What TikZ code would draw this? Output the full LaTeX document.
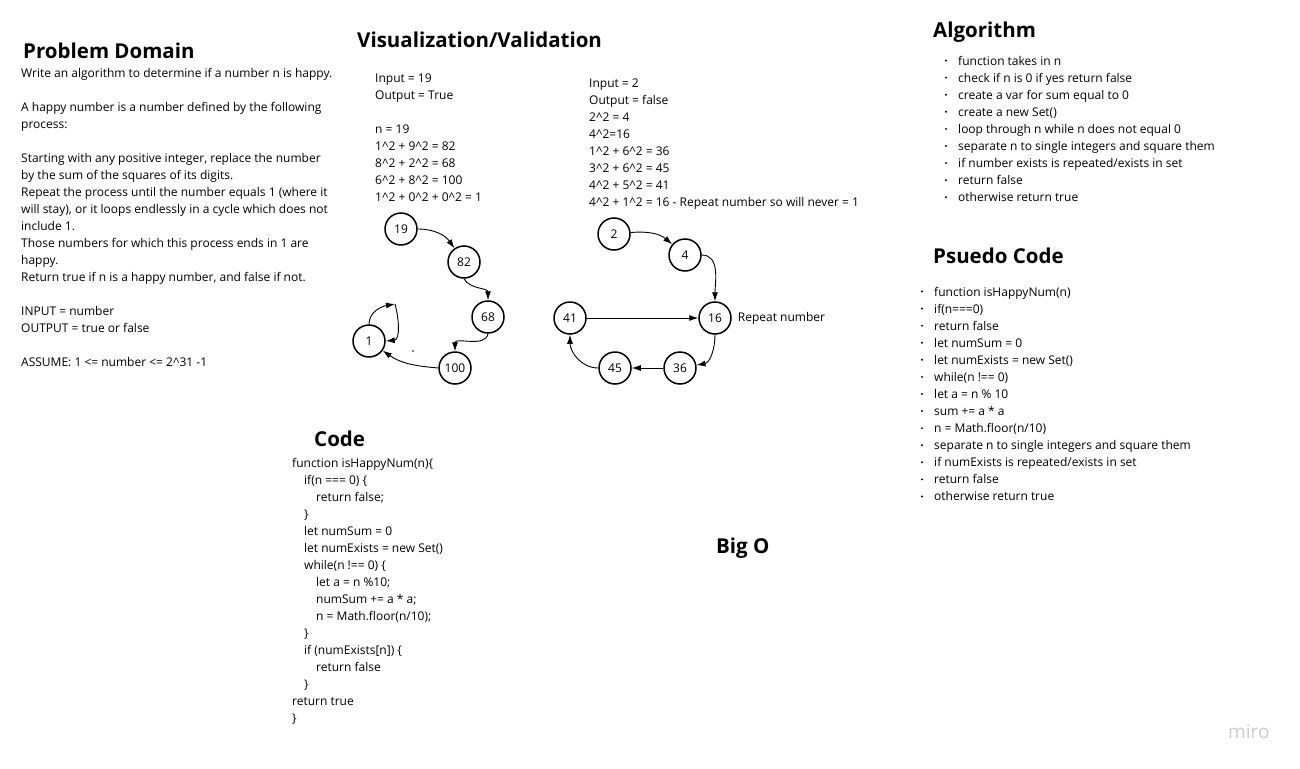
\documentclass[tikz,border=0pt]{standalone}
\usepackage{fontspec}
\setmainfont{Open Sans}
\usepackage{tikz}
\usetikzlibrary{arrows.meta}
\usetikzlibrary{positioning}
\newcommand{\pw}{\textasciicircum}
\tikzset{
  txt/.style={font=\fontsize{12}{17}\selectfont, inner sep=0pt, align=left, anchor=north west},
  item/.style={font=\fontsize{12}{17}\selectfont, inner sep=0pt, anchor=base west},
  head/.style={font=\fontsize{20.5}{24}\selectfont\bfseries, inner sep=0pt, anchor=base west},
  num/.style={draw, circle, line width=1.5pt, minimum size=32pt, inner sep=0pt, font=\fontsize{12}{14}\selectfont},
  arr/.style={-{Latex[length=9pt,width=6pt]}, line width=0.9pt},
}
\begin{document}
\begin{tikzpicture}[x=1pt,y=-1pt]
\useasboundingbox (0,0) rectangle (1300,768);

\node[head] (hprob) at (23,59) {Problem Domain};
\node[txt] (prob) at (21,68.5) {Write an algorithm to determine if a number n is happy.\\[17pt]
A happy number is a number defined by the following\\
process:\\[17pt]
Starting with any positive integer, replace the number\\
by the sum of the squares of its digits.\\
Repeat the process until the number equals 1 (where it\\
will stay), or it loops endlessly in a cycle which does not\\
include 1.\\
Those numbers for which this process ends in 1 are\\
happy.\\
Return true if n is a happy number, and false if not.\\[17pt]
INPUT = number\\
OUTPUT = true or false\\[17pt]
ASSUME: 1 <= number <= 2\pw31 -1};

\node[head] (hvis) at (357,48) {Visualization/Validation};
\node[txt] (happy) at (375,73.5) {Input = 19\\
Output = True\\[17pt]
n = 19\\
1\pw2 + 9\pw2 = 82\\
8\pw2 + 2\pw2 = 68\\
6\pw2 + 8\pw2 = 100\\
1\pw2 + 0\pw2 + 0\pw2 = 1};
\node[txt] (sad) at (589,78.5) {Input = 2\\
Output = false\\
2\pw2 = 4\\
4\pw2=16\\
1\pw2 + 6\pw2 = 36\\
3\pw2 + 6\pw2 = 45\\
4\pw2 + 5\pw2 = 41\\
4\pw2 + 1\pw2 = 16 - Repeat number so will never = 1};

\node[num] (l19) at (401,229) {19};
\node[num] (l82) at (464,262) {82};
\node[num] (l68) at (488,317) {68};
\node[num] (l1) at (369,341) {1};
\node[num] (l100) at (455,368) {100};
\coordinate (loop) at (395,304);
\fill (413,351) circle (0.8pt);
\draw[arr] (l19) to[out=0,in=125] (l82);
\draw[arr] (l82.south) to[out=-60,in=90] (l68.north);
\draw[arr] (l68.south) to[out=-100,in=90] (l100.north);
\draw[arr] (l100.west) to[out=175,in=-35] (l1);
\draw[arr] (l1.north) to[out=90,in=190] (loop);
\draw[arr] (loop) to[out=-75,in=5] (l1.east);

\node[num] (r2) at (614,234) {2};
\node[num] (r4) at (685,255) {4};
\node[num] (r16) at (715,318) {16};
\node[num] (r41) at (570,318) {41};
\node[num] (r36) at (680,368) {36};
\node[num] (r45) at (615,368) {45};
\node[item, anchor=west, right=6pt of r16] (rep) {Repeat number};
\draw[arr] (r2) to[out=5,in=140] (r4);
\draw[arr] (r4) to[out=0,in=90] (r16.north);
\draw[arr] (r41) -- (r16);
\draw[arr] (r16.south) to[out=-90,in=10] (r36);
\draw[arr] (r36) -- (r45);
\draw[arr] (r45) to[out=180,in=-90] (r41);

\node[head] (halg) at (933,37.5) {Algorithm};
\foreach \t [count=\i from 0] in {function takes in n, check if n is 0 if yes return false,
  create a var for sum equal to 0, create a new Set(), loop through n while n does not equal 0,
  separate n to single integers and square them, if number exists is repeated/exists in set,
  return false, otherwise return true} {
  \fill (946,60.5+17.1*\i) circle (1.1pt);
  \node[item] at (958,65+17.1*\i) {\t};
}

\node[head] (hpseudo) at (933,263) {Psuedo Code};
\foreach \t [count=\i from 0] in {function isHappyNum(n), if(n===0), return false,
  let numSum = 0, let numExists = new Set(), while(n !== 0), let a = n \% 10,
  sum += a * a, n = Math.floor(n/10), separate n to single integers and square them,
  if numExists is repeated/exists in set, return false, otherwise return true} {
  \fill (922,291.5+17.08*\i) circle (1.1pt);
  \node[item] at (934,296+17.08*\i) {\t};
}

\node[head] (hcode) at (314,446) {Code};
\node[txt] (code) at (292,458.5) {function isHappyNum(n)\{\\
\hspace*{12pt}if(n === 0) \{\\
\hspace*{24pt}return false;\\
\hspace*{12pt}\}\\
\hspace*{12pt}let numSum = 0\\
\hspace*{12pt}let numExists = new Set()\\
\hspace*{12pt}while(n !== 0) \{\\
\hspace*{24pt}let a = n \%10;\\
\hspace*{24pt}numSum += a * a;\\
\hspace*{24pt}n = Math.floor(n/10);\\
\hspace*{12pt}\}\\
\hspace*{12pt}if (numExists[n]) \{\\
\hspace*{24pt}return false\\
\hspace*{12pt}\}\\
return true\\
\}};

\node[head] (hbig) at (716,553.5) {Big O};
\node[item, text=black!20, font=\fontsize{19}{20}\selectfont] (miro) at (1228,738) {miro};
\end{tikzpicture}
\end{document}
